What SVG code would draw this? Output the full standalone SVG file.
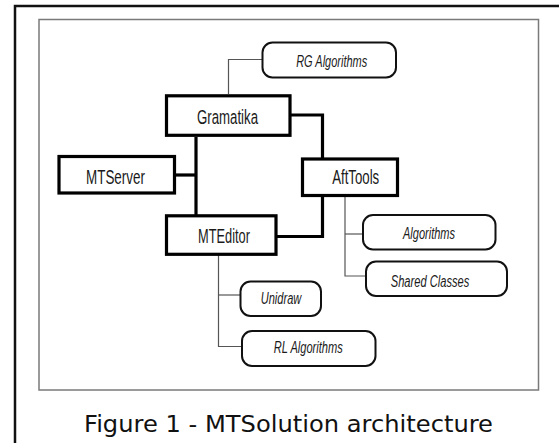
<svg xmlns="http://www.w3.org/2000/svg" width="559" height="443" viewBox="0 0 559 443">
  <style>
    .frame { fill: #ffffff; stroke: #111111; stroke-width: 2.5; }
    .panel { fill: #ffffff; stroke: #7a7a7a; stroke-width: 1.5; }
    .box { fill: #ffffff; stroke: #000000; stroke-width: 3.2; }
    .lib { fill: #ffffff; stroke: #111111; stroke-width: 2; }
    .thick { fill: none; stroke: #000000; stroke-width: 3.2; }
    .thin { fill: none; stroke: #555555; stroke-width: 1.2; }
    .lbl { font-family: "Liberation Sans", Arial, sans-serif; font-size: 20.5px; fill: #1a1a1a; text-anchor: middle; }
    .ilbl { font-family: "Liberation Sans", Arial, sans-serif; font-size: 16px; font-style: italic; fill: #1a1a1a; text-anchor: middle; }
    .cap { font-family: Verdana, "DejaVu Sans", sans-serif; font-size: 23.5px; fill: #111111; }
  </style>

  <!-- page frame and drawing panel -->
  <rect class="frame" x="15" y="6" width="560" height="460"/>
  <rect class="panel" x="39" y="19.5" width="499.5" height="370.5"/>

  <!-- connectors -->
  <g id="connectors">
    <!-- main module links -->
    <polyline class="thick" points="196,137 196,215"/>
    <polyline class="thick" points="175.5,175 196,175"/>
    <polyline class="thick" points="291,115 322.5,115 322.5,158"/>
    <polyline class="thick" points="277,236.5 322.5,236.5 322.5,197"/>
    <!-- library links -->
    <polyline class="thin" points="228.5,94 228.5,59.5 262,59.5"/>
    <polyline class="thin" points="345,197 345,276 366,276"/>
    <polyline class="thin" points="345,234 363,234"/>
    <polyline class="thin" points="218.5,255 218.5,346.5 242,346.5"/>
    <polyline class="thin" points="218.5,295 240.5,295"/>
  </g>

  <g id="gramatika">
    <rect class="box" x="166.5" y="95.8" width="123.5" height="39.5"/>
    <text class="lbl" x="227.5" y="123.5" textLength="61" lengthAdjust="spacingAndGlyphs">Gramatika</text>
  </g>

  <g id="mtserver">
    <rect class="box" x="59" y="156.5" width="115.5" height="36.5"/>
    <text class="lbl" x="115.5" y="183.5" textLength="59" lengthAdjust="spacingAndGlyphs">MTServer</text>
  </g>

  <g id="mteditor">
    <rect class="box" x="166.5" y="215.8" width="109.5" height="38.5"/>
    <text class="lbl" x="224" y="242.5" textLength="52" lengthAdjust="spacingAndGlyphs">MTEditor</text>
  </g>

  <g id="afttools">
    <rect class="box" x="302.5" y="159" width="95" height="36.5"/>
    <text class="lbl" x="355.7" y="183.5" textLength="47" lengthAdjust="spacingAndGlyphs">AftTools</text>
  </g>

  <g id="rg-algorithms">
    <rect class="lib" x="262.5" y="42.5" width="133.5" height="35" rx="10"/>
    <text class="ilbl" x="331.7" y="66.7" textLength="71" lengthAdjust="spacingAndGlyphs">RG Algorithms</text>
  </g>

  <g id="algorithms">
    <rect class="lib" x="363" y="215" width="132.5" height="34.5" rx="10"/>
    <text class="ilbl" x="429" y="239" textLength="52" lengthAdjust="spacingAndGlyphs">Algorithms</text>
  </g>

  <g id="shared-classes">
    <rect class="lib" x="366" y="261.5" width="141" height="34.5" rx="10"/>
    <text class="ilbl" x="430" y="286.7" textLength="78.5" lengthAdjust="spacingAndGlyphs">Shared Classes</text>
  </g>

  <g id="unidraw">
    <rect class="lib" x="240.5" y="281.5" width="80.5" height="34.5" rx="10"/>
    <text class="ilbl" x="281" y="304" textLength="40.5" lengthAdjust="spacingAndGlyphs">Unidraw</text>
  </g>

  <g id="rl-algorithms">
    <rect class="lib" x="242" y="331" width="133.5" height="35" rx="10"/>
    <text class="ilbl" x="308.3" y="352.7" textLength="69" lengthAdjust="spacingAndGlyphs">RL Algorithms</text>
  </g>

  <text class="cap" x="84" y="431.5" textLength="409" lengthAdjust="spacingAndGlyphs">Figure 1 - MTSolution architecture</text>
</svg>
